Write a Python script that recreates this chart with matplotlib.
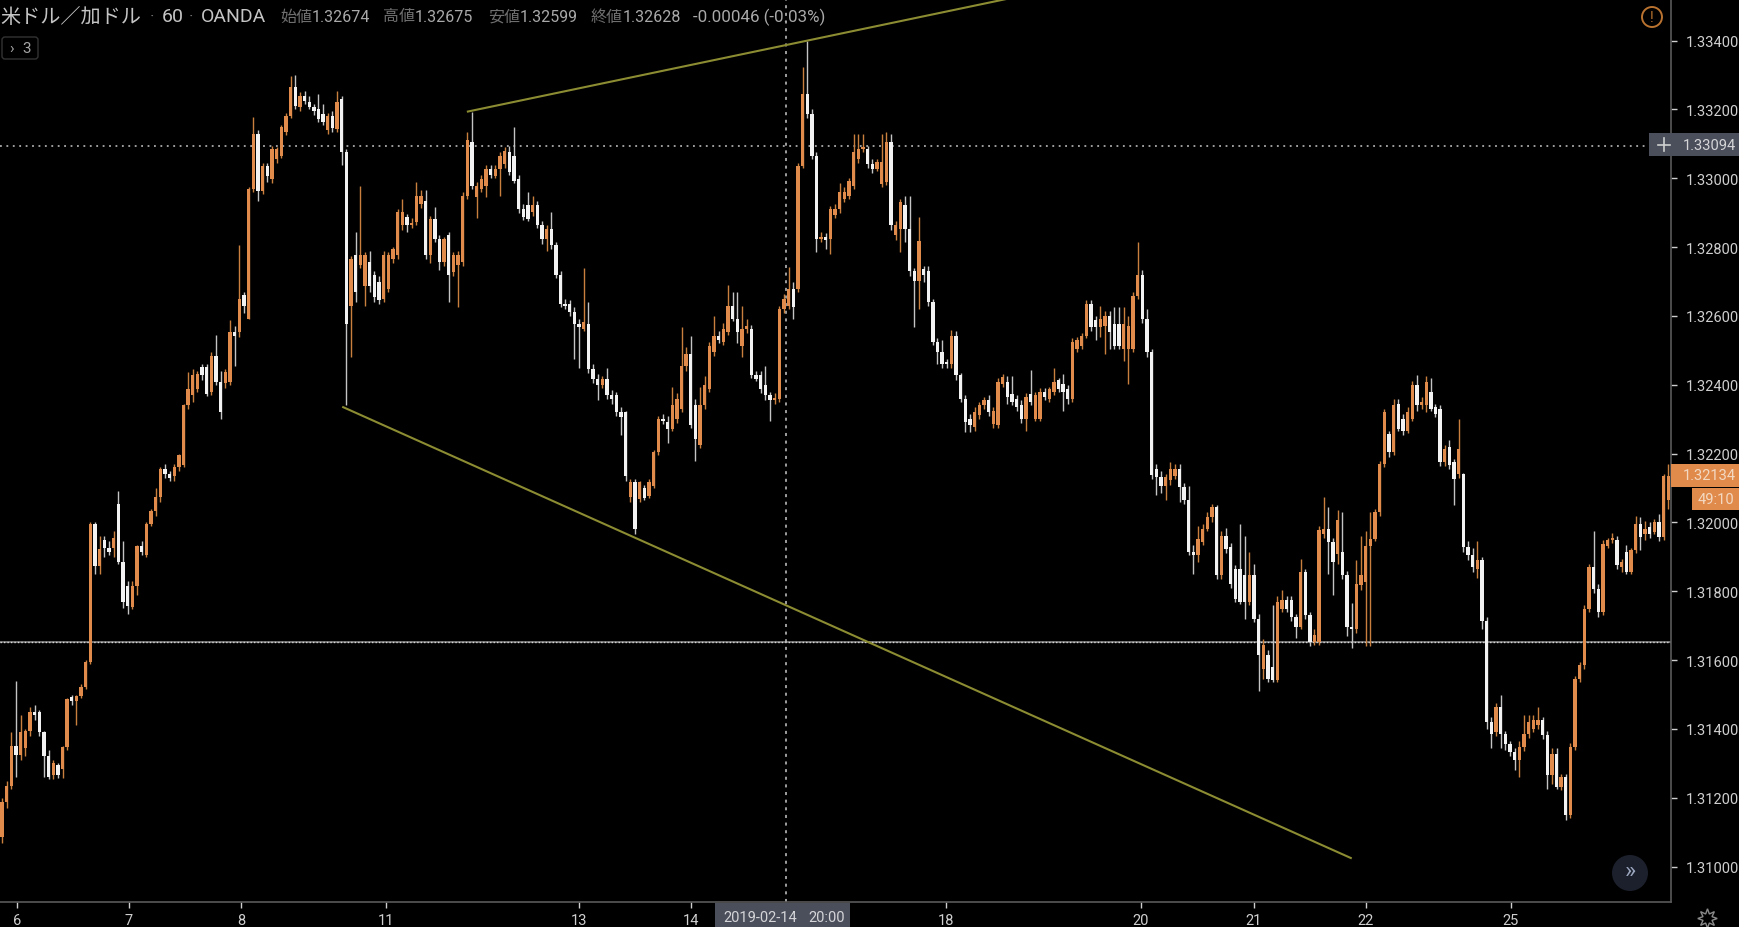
"""USD/CAD hourly candles, TradingView dark look"""

import numpy as np
import matplotlib
matplotlib.use("Agg")
from matplotlib import pyplot as plt
from matplotlib.patches import Circle, FancyBboxPatch, Rectangle

plt.rcParams["font.family"] = ["Roboto", "Noto Sans CJK JP", "DejaVu Sans"]

# prices are stored as (price - 1.3) * 100000
opens = [
    1085, 1188, 1235, 1350, 1325, 1345, 1395, 1450, 1450, 1390, 1320,
    1265, 1295, 1285, 1348, 1492, 1480, 1495, 1522, 1595, 1995,
    1873, 1950, 1925, 1925, 2054, 1885, 1816, 1755, 1816, 1933, 1904,
    1996, 2033, 2074, 2156, 2140, 2136, 2161, 2166, 2340, 2369, 2388,
    2451, 2451, 2379, 2485, 2408, 2405, 2408, 2553, 2553, 2660,
    2592, 2969, 3129, 2964, 3037, 2998, 3056, 3066, 3134, 3182,
    3264, 3206, 3240, 3221, 3206, 3202, 3187, 3139, 3182, 3143, 3231,
    3076, 2630, 2776, 2747, 2688, 2756, 2718, 2698, 2650, 2679,
    2766, 2776, 2863, 2887, 2863, 2872, 2926, 2935, 2776, 2882, 2824,
    2756, 2834, 2727, 2747, 2756, 2950, 3105, 2945, 2969, 2979,
    3027, 3008, 3027, 3042, 3076, 3066, 2998, 2911, 2921, 2901, 2921,
    2863, 2824, 2853, 2805, 2718, 2635, 2635, 2611, 2577, 2563, 2577,
    2446, 2417, 2398, 2417, 2369, 2369, 2321, 2321, 2075, 2117,
    2069, 2100, 2078, 2107, 2204, 2301, 2292, 2272, 2301, 2330, 2456, 2490,
    2340, 2224, 2340, 2388, 2495, 2543, 2524, 2553, 2630, 2592, 2514,
    2563, 2563, 2427, 2427, 2398, 2369, 2355, 2359, 2621, 2630, 2679, 2679,
    3037, 3245, 3187, 3066, 2824, 2829, 2824, 2892, 2911, 2940, 2950,
    2979, 3056, 3085, 3085, 3042, 3027, 2984, 2989, 3105, 2834, 2853,
    2921, 2853, 2732, 2703, 2737, 2732, 2640, 2524, 2495, 2466,
    2461, 2543, 2427, 2359, 2301, 2277, 2311, 2340, 2355, 2287,
    2282, 2403, 2408, 2374, 2359, 2340, 2301, 2374, 2301, 2301,
    2379, 2359, 2379, 2413, 2403, 2388, 2359, 2505, 2514, 2543, 2635,
    2587, 2568, 2572, 2601, 2577, 2577, 2505, 2505, 2505, 2659,
    2718, 2592, 2495, 2156, 2132, 2107, 2122, 2136, 2156, 2103,
    2064, 1914, 1904, 1943, 1982, 2016, 2045, 1846, 1962, 1928,
    1865, 1865, 1846, 1769, 1846, 1720, 1575, 1614, 1580, 1541,
    1749, 1774, 1774, 1725, 1696, 1856, 1730, 1652, 1652, 1967,
    1982, 1943, 1909, 1914, 1846, 1696, 1691, 1817, 1827, 1933,
    1953, 2030, 2170, 2258, 2205, 2345, 2301, 2267, 2301, 2398,
    2340, 2340, 2379, 2335, 2330, 2175, 2219, 2175, 2141, 2141, 1928,
    1904, 1865, 1890, 1715, 1420, 1391, 1464, 1386, 1357, 1333,
    1309, 1348, 1386, 1401, 1411, 1425, 1381, 1265, 1328, 1231,
    1261, 1149, 1348, 1546, 1585, 1749, 1870, 1807, 1740, 1933,
    1948, 1948, 1870, 1914, 1856, 1919, 1996, 1967, 1986, 1972, 2001,
    1957, 2064,
]
closes = [
    1188, 1235, 1350, 1325, 1390, 1395, 1450, 1440, 1390, 1320, 1260,
    1300, 1265, 1348, 1487, 1482, 1495, 1522, 1595, 1995, 1873,
    1923, 1925, 1915, 1955, 1885, 1770, 1758, 1816, 1933, 1915, 1996,
    2033, 2074, 2156, 2140, 2130, 2161, 2195, 2340, 2388, 2427, 2432,
    2427, 2374, 2485, 2408, 2321, 2437, 2553, 2543, 2650, 2630,
    2969, 3129, 2964, 3037, 3008, 3085, 3085, 3148, 3182, 3264,
    3211, 3240, 3225, 3206, 3197, 3172, 3163, 3182, 3146, 3221, 3076,
    2577, 2766, 2669, 2776, 2776, 2688, 2655, 2645, 2776, 2776,
    2795, 2901, 2901, 2863, 2870, 2950, 2950, 2776, 2882, 2824, 2756,
    2824, 2718, 2776, 2776, 2950, 3110, 2979, 2979, 2998, 3027,
    3010, 3027, 3066, 3080, 3018, 2993, 2911, 2887, 2882, 2921, 2863,
    2824, 2853, 2805, 2718, 2635, 2630, 2611, 2577, 2567, 2582, 2446,
    2417, 2398, 2417, 2369, 2360, 2321, 2306, 2136, 2118, 1982,
    2117, 2070, 2118, 2204, 2301, 2295, 2272, 2340, 2359, 2456, 2490, 2282,
    2243, 2340, 2398, 2514, 2543, 2530, 2563, 2630, 2592, 2553, 2563,
    2570, 2427, 2417, 2388, 2369, 2355, 2362, 2621, 2650, 2679, 2626, 3037,
    3245, 3187, 3066, 2824, 2829, 2820, 2911, 2911, 2960, 2960, 2993,
    3076, 3085, 3090, 3042, 3027, 3047, 3047, 3105, 2863, 2863, 2931,
    2853, 2732, 2703, 2819, 2718, 2640, 2524, 2495, 2461, 2461,
    2543, 2427, 2359, 2292, 2282, 2321, 2340, 2355, 2321, 2325,
    2408, 2422, 2364, 2350, 2335, 2301, 2364, 2350, 2369, 2379,
    2365, 2388, 2408, 2388, 2379, 2359, 2524, 2529, 2543, 2635, 2568,
    2568, 2592, 2601, 2553, 2514, 2514, 2577, 2572, 2659, 2718,
    2592, 2495, 2137, 2132, 2107, 2132, 2156, 2156, 2103, 2064,
    1914, 1904, 1953, 1982, 2016, 2045, 1846, 1962, 1924, 1822,
    1778, 1769, 1769, 1846, 1720, 1614, 1643, 1546, 1541, 1769,
    1774, 1749, 1725, 1696, 1856, 1730, 1652, 1672, 1977, 1982,
    1943, 1885, 2006, 1846, 1696, 1691, 1822, 1846, 1933, 1953,
    2030, 2170, 2321, 2205, 2340, 2272, 2267, 2321, 2398, 2340,
    2350, 2408, 2331, 2316, 2175, 2214, 2166, 2127, 2214, 1928, 1904,
    1870, 1890, 1715, 1420, 1386, 1464, 1386, 1357, 1333, 1309,
    1348, 1386, 1420, 1425, 1425, 1381, 1265, 1328, 1231, 1261,
    1149, 1348, 1546, 1585, 1749, 1870, 1807, 1740, 1938, 1948,
    1955, 1875, 1885, 1856, 1919, 1996, 1957, 1982, 1967, 2001, 1957,
    2136, 2134,
]
highs = [
    1200, 1250, 1390, 1540, 1440, 1400, 1465, 1470, 1455, 1395, 1340,
    1310, 1300, 1350, 1490, 1500, 1500, 1530, 1600, 2000, 2000,
    1960, 1960, 1945, 1975, 2090, 1945, 1830, 1830, 1935, 1945, 2000,
    2040, 2100, 2160, 2170, 2150, 2170, 2200, 2345, 2437, 2445, 2440,
    2460, 2460, 2495, 2545, 2440, 2445, 2587, 2570, 2805, 2670,
    2975, 3177, 3140, 3045, 3045, 3095, 3090, 3155, 3190, 3298,
    3300, 3250, 3255, 3240, 3215, 3245, 3215, 3190, 3195, 3255, 3240,
    3085, 2775, 2843, 2979, 2785, 2790, 2730, 2715, 2790, 2785,
    2800, 2910, 2940, 2895, 2885, 2990, 2965, 2965, 2890, 2916, 2835,
    2830, 2845, 2785, 2790, 2960, 3134, 3192, 2990, 3010, 3040,
    3040, 3040, 3075, 3090, 3095, 3150, 3010, 2925, 2960, 2950, 2935,
    2875, 2865, 2901, 2815, 2730, 2650, 2645, 2625, 2590, 2738, 2640,
    2460, 2430, 2425, 2450, 2385, 2380, 2335, 2325, 2125, 2125,
    2120, 2110, 2125, 2210, 2310, 2315, 2310, 2395, 2375, 2567, 2510, 2543,
    2360, 2395, 2425, 2525, 2600, 2555, 2580, 2690, 2670, 2670, 2630,
    2590, 2575, 2440, 2440, 2456, 2380, 2375, 2630, 2665, 2742, 2700, 3045,
    3323, 3400, 3200, 3075, 2845, 2840, 2920, 2925, 2985, 2975, 3000,
    3129, 3130, 3130, 3095, 3055, 3055, 3130, 3135, 3130, 2875, 2940,
    2950, 2950, 2740, 2887, 2745, 2745, 2650, 2535, 2530, 2475,
    2560, 2555, 2435, 2370, 2315, 2335, 2350, 2365, 2370, 2335,
    2420, 2430, 2425, 2425, 2370, 2355, 2375, 2442, 2380, 2390,
    2390, 2395, 2450, 2420, 2430, 2400, 2535, 2540, 2550, 2645, 2645,
    2600, 2630, 2615, 2615, 2625, 2625, 2625, 2600, 2670, 2815,
    2735, 2620, 2505, 2170, 2150, 2140, 2175, 2170, 2170, 2115,
    2107, 1935, 1990, 1995, 2030, 2055, 2050, 1975, 1985, 1940,
    1875, 1996, 1960, 1915, 1880, 1735, 1660, 1630, 1759, 1785,
    1805, 1785, 1785, 1735, 1895, 1865, 1740, 1690, 1990, 2075,
    2045, 1955, 2035, 2030, 1860, 1765, 1890, 1960, 1975, 2030,
    2040, 2180, 2330, 2265, 2360, 2360, 2315, 2335, 2410, 2427,
    2365, 2425, 2420, 2345, 2340, 2225, 2240, 2185, 2301, 2145, 1945,
    1925, 1945, 1900, 1725, 1435, 1475, 1498, 1395, 1365, 1345,
    1365, 1440, 1440, 1440, 1464, 1435, 1395, 1345, 1345, 1270,
    1270, 1360, 1555, 1595, 1760, 1880, 1975, 1820, 1950, 1955,
    1970, 1960, 1895, 1935, 1925, 2020, 2015, 2005, 2000, 2010, 2025,
    2140, 2170,
]
lows = [
    1070, 1170, 1225, 1260, 1310, 1320, 1380, 1425, 1380, 1260, 1255,
    1255, 1258, 1258, 1340, 1470, 1410, 1490, 1515, 1590, 1850,
    1850, 1900, 1905, 1900, 1880, 1750, 1735, 1748, 1790, 1905, 1900,
    1990, 2020, 2060, 2130, 2120, 2120, 2150, 2160, 2330, 2350, 2380,
    2415, 2368, 2370, 2400, 2300, 2390, 2400, 2456, 2540, 2610,
    2590, 2960, 2935, 2955, 2990, 2985, 3045, 3060, 3125, 3175,
    3200, 3195, 3215, 3200, 3185, 3165, 3155, 3130, 3135, 3135, 3040,
    2340, 2480, 2640, 2740, 2630, 2670, 2640, 2635, 2640, 2670,
    2755, 2765, 2850, 2845, 2855, 2865, 2915, 2765, 2755, 2815, 2735,
    2745, 2640, 2715, 2625, 2745, 2940, 2970, 2885, 2960, 2945,
    3000, 3000, 2950, 3030, 3010, 2985, 2900, 2880, 2875, 2890, 2855,
    2810, 2790, 2795, 2710, 2625, 2620, 2600, 2476, 2450, 2555, 2435,
    2405, 2355, 2390, 2360, 2345, 2310, 2255, 2120, 2060, 1967,
    2060, 2065, 2070, 2100, 2195, 2285, 2230, 2265, 2290, 2320, 2440, 2275,
    2180, 2215, 2330, 2380, 2485, 2520, 2515, 2545, 2585, 2520, 2480,
    2550, 2420, 2410, 2375, 2355, 2296, 2345, 2350, 2610, 2620, 2590, 2670,
    3030, 3175, 3055, 2785, 2815, 2795, 2780, 2885, 2900, 2930, 2940,
    2970, 3045, 3075, 3030, 3015, 3020, 2975, 2980, 2850, 2820, 2785,
    2815, 2715, 2567, 2621, 2700, 2630, 2515, 2460, 2450, 2450,
    2450, 2415, 2350, 2262, 2262, 2265, 2300, 2330, 2310, 2275,
    2275, 2395, 2345, 2340, 2325, 2290, 2265, 2340, 2295, 2295,
    2355, 2350, 2370, 2380, 2325, 2345, 2350, 2495, 2505, 2535, 2555,
    2530, 2540, 2490, 2505, 2505, 2505, 2470, 2403, 2495, 2650,
    2580, 2480, 2125, 2080, 2085, 2065, 2110, 2125, 2060, 2055,
    1905, 1850, 1885, 1935, 1975, 2000, 1835, 1835, 1910, 1810,
    1768, 1762, 1720, 1760, 1710, 1510, 1545, 1535, 1535, 1535,
    1740, 1740, 1715, 1665, 1690, 1720, 1640, 1645, 1645, 1955,
    1850, 1790, 1880, 1835, 1670, 1635, 1680, 1805, 1640, 1640,
    1945, 2020, 2160, 2190, 2195, 2265, 2255, 2260, 2295, 2325,
    2330, 2320, 2325, 2305, 2165, 2165, 2155, 2050, 2130, 1915, 1890,
    1855, 1840, 1690, 1400, 1345, 1380, 1345, 1340, 1320, 1280,
    1260, 1335, 1375, 1390, 1400, 1370, 1225, 1240, 1225, 1222,
    1135, 1140, 1340, 1535, 1575, 1740, 1795, 1725, 1730, 1925,
    1940, 1865, 1855, 1850, 1850, 1910, 1920, 1950, 1955, 1965, 1945,
    1950, 2040,
]

price_ticks = [1.334, 1.332, 1.330, 1.328, 1.326, 1.324, 1.322, 1.320, 1.318, 1.316, 1.314, 1.312, 1.310]
day_labels = ["6", "7", "8", "11", "13", "14", "18", "20", "21", "22", "25"]
day_ticks = [3.2, 27.3, 51.4, 82.5, 124.0, 148.0, 202.8, 244.7, 269.0, 293.0, 324.2]

upper_trend_x = [100.1, 215.8]
upper_trend_y = [1.33194, 1.33521]
lower_trend_x = [73.3, 289.8]
lower_trend_y = [1.32335, 1.31025]

cross_price = 1.33094
cross_candle = 168.4
level_price = 1.31654

ORANGE = "#e08b4c"
WHITE = "#f2f2f2"
TREND = "#8c8c33"
TEXT = "#cfcfcf"
GREY_BOX = "#4b4f5c"

W, H = 1740, 928
fig = plt.figure(figsize=(W / 100, H / 100), dpi=100, facecolor="black")

# Main price pane, sized in pixels
ax = fig.add_axes([0, (H - 902.7) / H, 1671 / W, 902.7 / H], facecolor="black")

o = 1.3 + np.array(opens) / 1e5
c = 1.3 + np.array(closes) / 1e5
h = 1.3 + np.array(highs) / 1e5
l = 1.3 + np.array(lows) / 1e5
x = np.arange(len(o))
up = c >= o

ax.axhline(level_price, color="#8e8e8e", lw=1.1, zorder=1)
ax.axhline(level_price, color="#d8d8d8", lw=1.0, ls=(0, (1, 1.5)), zorder=1)
ax.plot([-0.5, 354], [cross_price, cross_price], color="#c8c8c8", lw=1.1, ls=(0, (1.2, 3)), zorder=1)
ax.axvline(cross_candle, color="#c8c8c8", lw=1.1, ls=(0, (2, 3)), zorder=1)

ax.vlines(x[up], l[up], h[up], color="#c9803f", lw=1.0, zorder=2)
ax.vlines(x[~up], l[~up], h[~up], color="#c4c4c4", lw=1.0, zorder=2)
bottom = np.minimum(o, c)
height = np.maximum(np.abs(c - o), 0.00003)
ax.bar(x[up], height[up], bottom=bottom[up], width=0.72, color=ORANGE, lw=0, zorder=3)
ax.bar(x[~up], height[~up], bottom=bottom[~up], width=0.72, color=WHITE, lw=0, zorder=3)

ax.plot(upper_trend_x, upper_trend_y, color=TREND, lw=1.5, zorder=4)
ax.plot(lower_trend_x, lower_trend_y, color=TREND, lw=1.5, zorder=4)

ax.set_xlim(-0.43, 358.6)
ax.set_ylim(1.30898, 1.33521)
for side in ["top", "left"]:
    ax.spines[side].set_visible(False)
ax.spines["right"].set_color("#5a5a5a")
ax.spines["bottom"].set_color("#5a5a5a")
ax.spines["right"].set_linewidth(1.2)
ax.spines["bottom"].set_linewidth(1.2)
ax.yaxis.tick_right()
ax.set_yticks(price_ticks, [f"{p:.5f}" for p in price_ticks])
ax.set_xticks(day_ticks, day_labels)
ax.tick_params(axis="y", colors=TEXT, labelsize=10.5, length=4, width=1, pad=7)
ax.tick_params(axis="x", colors=TEXT, labelsize=10.5, length=4, width=1, pad=4)

# Overlay in pixel coordinates for the widgets around the chart
ui = fig.add_axes([0, 0, 1, 1], facecolor="none")
ui.set_xlim(0, W)
ui.set_ylim(H, 0)
ui.axis("off")

ui.text(0, 17, "米ドル／加ドル", color="#c4c4c4", fontsize=14.5, va="center")
ui.text(150, 17, "·", color="#777777", fontsize=12, va="center")
ui.text(162, 17, "60", color="#c4c4c4", fontsize=14, va="center")
ui.text(189, 17, "·", color="#777777", fontsize=12, va="center")
ui.text(201, 17, "OANDA", color="#c4c4c4", fontsize=14, va="center")
header = [(280, "始値", "1.32674"), (383, "高値", "1.32675"), (488, "安値", "1.32599"), (591, "終値", "1.32628")]
for hx, name, val in header:
    ui.text(hx, 17, name, color="#6f6f6f", fontsize=11.5, va="center")
    ui.text(hx + 32, 17, val, color="#a9a9a9", fontsize=11.5, va="center")
ui.text(693, 17, "-0.00046 (-0.03%)", color="#a9a9a9", fontsize=12.2, va="center")

ui.add_patch(FancyBboxPatch((2, 38), 36, 22, boxstyle="round,pad=0,rounding_size=3",
                            fc="black", ec="#333333", lw=1))
ui.text(9, 49, "›", color="#a5a5a5", fontsize=11, va="center")
ui.text(22, 49, "3", color="#a5a5a5", fontsize=11, va="center")

ui.add_patch(Circle((1652, 18), 10, fc="none", ec="#b9722f", lw=1.4))
ui.text(1652, 18, "!", color="#b9722f", fontsize=10, ha="center", va="center")

# Price tags on the right axis
ui.add_patch(Rectangle((1649, 134), 91, 23, fc=GREY_BOX, ec="none"))
ui.plot([1664, 1664], [139, 152], color="#d0d0d0", lw=1.2)
ui.plot([1658, 1670], [145.5, 145.5], color="#d0d0d0", lw=1.2)
ui.text(1683, 145.5, f"{cross_price:.5f}", color="#d5d5d8", fontsize=10.5, va="center")

ui.add_patch(Rectangle((1671, 465), 69, 23, fc=ORANGE, ec="none"))
ui.text(1683, 476.5, "1.32134", color="#f3d9c2", fontsize=10.5, va="center")
ui.add_patch(Rectangle((1692, 489), 48, 22, fc=ORANGE, ec="none"))
ui.text(1698, 500, "49:10", color="#f3d9c2", fontsize=10.5, va="center")

# Date tag on the time axis
ui.add_patch(Rectangle((715, 904), 135, 24, fc=GREY_BOX, ec="none"))
ui.text(723, 918, "2019-02-14", color="#d5d5d8", fontsize=10.5, va="center")
ui.text(808, 918, "20:00", color="#d5d5d8", fontsize=10.5, va="center")

# Scroll button and settings gear
ui.add_patch(Circle((1630, 874), 18, fc="#1b202c", ec="none"))
ui.text(1630, 872, "»", color="#9aa5bd", fontsize=17, ha="center", va="center")
ui.plot([1707.5], [919], marker=(8, 1, 0), ms=14, mfc="none", mec="#8a8a8a", mew=1)

fig.savefig("out.png", dpi=100, facecolor="black")
